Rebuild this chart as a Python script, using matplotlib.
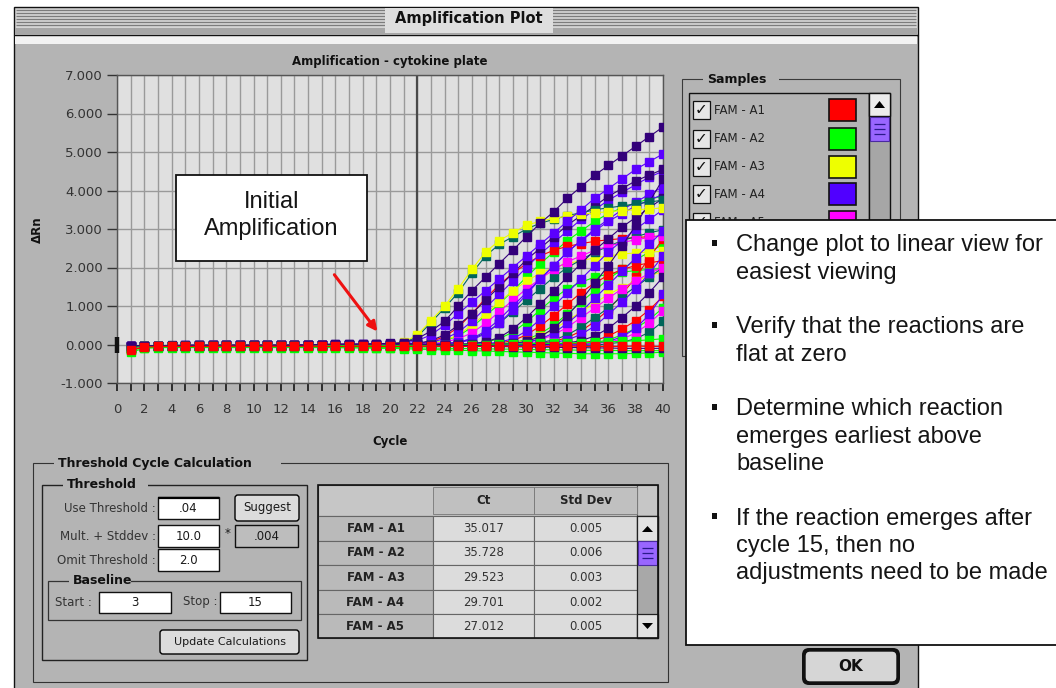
import matplotlib
matplotlib.use("Agg")
import matplotlib.pyplot as plt
from matplotlib.patches import Rectangle, FancyBboxPatch, Polygon
from matplotlib.ticker import FormatStrFormatter

# ---------------- data ----------------
cycles = list(range(1, 41))
x_major_ticks = list(range(0, 41, 2))
x_minor_ticks = list(range(1, 41, 2))
y_ticks = [-1, 0, 1, 2, 3, 4, 5, 6, 7]
highlight_cycle = 22

dpurple_1 = [-0.05,-0.03,-0.03,-0.02,-0.02,-0.02,-0.02,-0.02,-0.02,-0.02, -0.02,-0.02,-0.01,-0.01,0.0,0.01,0.01,0.01,0.02,0.03,
             0.05,0.15,0.35,0.6,1.0,1.4,1.75,2.1,2.45,2.8, 3.15,3.45,3.8,4.1,4.4,4.65,4.9,5.15,5.4,5.65]
purple_1 = [-0.06,-0.04,-0.03,-0.03,-0.02,-0.02,-0.02,-0.02,-0.02,-0.02, -0.02,-0.02,-0.02,-0.01,-0.01,0.0,0.0,0.01,0.01,0.02,
            0.03,0.1,0.25,0.5,0.8,1.1,1.4,1.7,2.0,2.3, 2.6,2.9,3.2,3.5,3.8,4.05,4.3,4.55,4.75,4.95]
teal_1 = [-0.08,-0.04,-0.03,-0.03,-0.03,-0.02,-0.02,-0.02,-0.02,-0.02, -0.02,-0.02,-0.02,-0.02,-0.01,-0.01,-0.01,0.0,0.0,0.01,
          0.05,0.2,0.57,0.95,1.35,1.85,2.3,2.6,2.8,3.0, 3.15,3.25,3.35,3.42,3.5,3.55,3.6,3.65,3.7,3.75]
yellow_1 = [-0.07,-0.04,-0.03,-0.03,-0.03,-0.02,-0.02,-0.02,-0.02,-0.02, -0.02,-0.02,-0.02,-0.02,-0.01,-0.01,-0.01,0.0,0.01,0.02,
            0.06,0.25,0.62,1.0,1.45,1.95,2.4,2.7,2.9,3.1, 3.2,3.28,3.33,3.38,3.42,3.45,3.48,3.5,3.52,3.55]
dpurple_2 = [-0.05,-0.04,-0.03,-0.03,-0.02,-0.02,-0.02,-0.02,-0.02,-0.02, -0.02,-0.02,-0.02,-0.02,-0.01,-0.01,0.0,0.0,0.0,0.0,
             0.0,0.03,0.1,0.25,0.5,0.8,1.15,1.5,1.85,2.2, 2.5,2.8,3.1,3.35,3.6,3.85,4.05,4.25,4.4,4.55]
purple_2 = [-0.06,-0.04,-0.03,-0.03,-0.03,-0.02,-0.02,-0.02,-0.02,-0.02, -0.02,-0.02,-0.02,-0.02,-0.02,-0.01,-0.01,-0.01,0.0,0.0,
            0.0,0.02,0.06,0.15,0.32,0.6,0.95,1.3,1.65,2.0, 2.35,2.65,2.95,3.25,3.5,3.75,3.95,4.15,4.35,4.5]
green_1 = [-0.1,-0.05,-0.04,-0.03,-0.03,-0.03,-0.03,-0.02,-0.02,-0.02, -0.02,-0.02,-0.02,-0.02,-0.02,-0.02,-0.01,-0.01,-0.01,0.0,
           0.0,0.01,0.04,0.1,0.22,0.45,0.75,1.05,1.4,1.75, 2.1,2.4,2.7,2.95,3.2,3.4,3.55,3.68,3.78,3.85]
red_1 = [-0.12,-0.06,-0.05,-0.04,-0.04,-0.03,-0.03,-0.03,-0.03,-0.03, -0.03,-0.03,-0.03,-0.03,-0.02,-0.02,-0.02,-0.02,-0.01,-0.01,
         0.0,0.02,0.08,0.2,0.45,0.8,1.2,1.55,1.85,2.1, 2.3,2.45,2.55,2.62,2.68,2.72,2.75,2.78,2.8,2.82]
magenta_1 = [-0.06,-0.04,-0.03,-0.03,-0.03,-0.03,-0.02,-0.02,-0.02,-0.02, -0.02,-0.02,-0.02,-0.02,-0.02,-0.02,-0.01,-0.01,-0.01,-0.01,
             0.0,0.0,0.02,0.06,0.15,0.3,0.55,0.85,1.15,1.45, 1.7,1.95,2.15,2.3,2.45,2.55,2.65,2.72,2.78,2.83]
yellow_2 = [-0.07,-0.05,-0.04,-0.03,-0.03,-0.03,-0.03,-0.02,-0.02,-0.02, -0.02,-0.02,-0.02,-0.02,-0.02,-0.01,-0.01,-0.01,-0.01,0.0,
            0.0,0.01,0.03,0.1,0.25,0.5,0.8,1.1,1.4,1.65, 1.85,2.0,2.1,2.18,2.25,2.3,2.35,2.38,2.4,2.42]
teal_2 = [-0.06,-0.04,-0.03,-0.03,-0.03,-0.02,-0.02,-0.02,-0.02,-0.02, -0.02,-0.02,-0.02,-0.02,-0.02,-0.02,-0.02,-0.01,-0.01,-0.01,
          -0.01,0.0,0.01,0.02,0.06,0.15,0.3,0.55,0.85,1.15, 1.45,1.75,2.0,2.2,2.4,2.55,2.7,2.8,2.9,2.98]
purple_3 = [-0.05,-0.04,-0.03,-0.03,-0.03,-0.02,-0.02,-0.02,-0.02,-0.02, -0.02,-0.02,-0.02,-0.02,-0.02,-0.02,-0.01,-0.01,-0.01,-0.01,
            0.0,0.0,0.01,0.02,0.06,0.15,0.35,0.65,1.0,1.35, 1.7,2.05,2.4,2.7,3.0,3.25,3.5,3.7,3.9,4.1]
dpurple_3 = [-0.05,-0.04,-0.03,-0.03,-0.03,-0.03,-0.02,-0.02,-0.02,-0.02, -0.02,-0.02,-0.02,-0.02,-0.02,-0.02,-0.02,-0.01,-0.01,-0.01,
             -0.01,-0.01,0.0,0.0,0.01,0.02,0.07,0.18,0.4,0.7, 1.05,1.4,1.75,2.1,2.45,2.75,3.05,3.3,3.55,3.8]
purple_4 = [-0.06,-0.04,-0.04,-0.03,-0.03,-0.03,-0.02,-0.02,-0.02,-0.02, -0.02,-0.02,-0.02,-0.02,-0.02,-0.02,-0.02,-0.02,-0.01,-0.01,
            -0.01,-0.01,-0.01,0.0,0.0,0.01,0.02,0.06,0.15,0.35, 0.65,1.0,1.35,1.7,2.05,2.4,2.7,3.0,3.25,3.5]
red_2 = [-0.1,-0.06,-0.05,-0.05,-0.04,-0.04,-0.04,-0.04,-0.03,-0.03, -0.03,-0.03,-0.03,-0.03,-0.03,-0.03,-0.03,-0.03,-0.03,-0.03,
         -0.03,-0.02,-0.02,-0.02,-0.01,-0.01,0.01,0.04,0.1,0.25, 0.48,0.75,1.05,1.35,1.6,1.8,1.95,2.05,2.12,2.18]
green_2 = [-0.12,-0.06,-0.05,-0.05,-0.04,-0.04,-0.04,-0.04,-0.04,-0.04, -0.04,-0.04,-0.04,-0.04,-0.04,-0.04,-0.04,-0.04,-0.04,-0.04,
           -0.04,-0.04,-0.04,-0.04,-0.03,-0.03,-0.02,0.02,0.05,0.13, 0.28,0.5,0.8,1.1,1.4,1.7,1.95,2.2,2.4,2.6]
magenta_2 = [-0.07,-0.05,-0.04,-0.04,-0.03,-0.03,-0.03,-0.03,-0.03,-0.03, -0.03,-0.03,-0.03,-0.03,-0.03,-0.03,-0.03,-0.02,-0.02,-0.02,
             -0.02,-0.02,-0.02,-0.02,-0.01,-0.01,-0.01,0.0,0.02,0.05, 0.12,0.25,0.45,0.7,0.95,1.2,1.45,1.65,1.85,2.0]
purple_5 = [-0.06,-0.04,-0.03,-0.03,-0.03,-0.03,-0.03,-0.02,-0.02,-0.02, -0.02,-0.02,-0.02,-0.02,-0.02,-0.02,-0.02,-0.02,-0.02,-0.02,
            -0.02,-0.02,-0.01,-0.01,-0.01,0.0,0.0,0.01,0.02,0.06, 0.14,0.3,0.55,0.85,1.2,1.55,1.9,2.25,2.6,2.95]
teal_3 = [-0.06,-0.04,-0.04,-0.03,-0.03,-0.03,-0.03,-0.03,-0.02,-0.02, -0.02,-0.02,-0.02,-0.02,-0.02,-0.02,-0.02,-0.02,-0.02,-0.02,
          -0.02,-0.02,-0.02,-0.02,-0.01,-0.01,-0.01,-0.01,0.0,0.02, 0.05,0.12,0.25,0.45,0.7,0.95,1.25,1.5,1.75,2.0]
yellow_3 = [-0.07,-0.05,-0.04,-0.04,-0.03,-0.03,-0.03,-0.03,-0.03,-0.03, -0.03,-0.03,-0.03,-0.02,-0.02,-0.02,-0.02,-0.02,-0.02,-0.02,
            -0.02,-0.02,-0.01,-0.01,-0.01,0.0,0.0,0.01,0.04,0.1, 0.22,0.4,0.62,0.85,1.08,1.3,1.48,1.65,1.78,1.9]
purple_6 = [-0.05,-0.04,-0.03,-0.03,-0.03,-0.03,-0.03,-0.03,-0.02,-0.02, -0.02,-0.02,-0.02,-0.02,-0.02,-0.02,-0.02,-0.02,-0.02,-0.02,
            -0.02,-0.02,-0.02,-0.02,-0.02,-0.01,-0.01,-0.01,0.0,0.0, 0.02,0.05,0.12,0.26,0.48,0.78,1.1,1.45,1.85,2.3]
dpurple_4 = [-0.05,-0.04,-0.03,-0.03,-0.03,-0.03,-0.03,-0.03,-0.03,-0.02, -0.02,-0.02,-0.02,-0.02,-0.02,-0.02,-0.02,-0.02,-0.02,-0.02,
             -0.02,-0.02,-0.02,-0.02,-0.02,-0.02,-0.02,-0.01,-0.01,-0.01, 0.0,0.01,0.04,0.1,0.22,0.42,0.7,1.0,1.35,1.75]
red_3 = [-0.1,-0.06,-0.05,-0.05,-0.05,-0.04,-0.04,-0.04,-0.04,-0.04, -0.04,-0.04,-0.04,-0.04,-0.04,-0.04,-0.04,-0.04,-0.04,-0.04,
         -0.04,-0.04,-0.04,-0.04,-0.04,-0.04,-0.03,-0.03,-0.03,-0.03, -0.02,-0.02,0.01,0.04,0.1,0.22,0.4,0.62,0.9,1.25]
green_3 = [-0.12,-0.07,-0.06,-0.05,-0.05,-0.05,-0.05,-0.05,-0.05,-0.05, -0.05,-0.05,-0.05,-0.05,-0.05,-0.05,-0.05,-0.05,-0.05,-0.05,
           -0.05,-0.05,-0.05,-0.05,-0.05,-0.05,-0.05,-0.04,-0.04,-0.04, -0.04,-0.03,-0.03,0.02,0.05,0.12,0.25,0.42,0.65,0.95]
magenta_3 = [-0.07,-0.05,-0.04,-0.04,-0.04,-0.04,-0.03,-0.03,-0.03,-0.03, -0.03,-0.03,-0.03,-0.03,-0.03,-0.03,-0.03,-0.03,-0.03,-0.03,
             -0.03,-0.03,-0.03,-0.03,-0.03,-0.03,-0.03,-0.02,-0.02,-0.02, -0.02,-0.02,-0.02,-0.01,0.02,0.06,0.14,0.3,0.55,0.88]
purple_7 = [-0.06,-0.04,-0.04,-0.03,-0.03,-0.03,-0.03,-0.03,-0.03,-0.03, -0.03,-0.03,-0.03,-0.03,-0.03,-0.02,-0.02,-0.02,-0.02,-0.02,
            -0.02,-0.02,-0.02,-0.02,-0.02,-0.02,-0.02,-0.02,-0.02,-0.02, -0.01,-0.01,-0.01,-0.01,0.03,0.08,0.2,0.42,0.78,1.3]
teal_4 = [-0.06,-0.05,-0.04,-0.04,-0.04,-0.04,-0.04,-0.03,-0.03,-0.03, -0.03,-0.03,-0.03,-0.03,-0.03,-0.03,-0.03,-0.03,-0.03,-0.03,
          -0.03,-0.03,-0.03,-0.03,-0.03,-0.03,-0.03,-0.03,-0.03,-0.03, -0.03,-0.02,-0.02,-0.02,-0.02,0.02,0.06,0.15,0.32,0.6]
purple_8 = [-0.06,-0.04,-0.03,-0.03,-0.03,-0.02,-0.02,-0.02,-0.02,-0.02, -0.02,-0.02,-0.02,-0.02,-0.02,-0.02,-0.02,-0.01,-0.01,-0.01,
            -0.01,-0.01,0.0,0.02,0.05,0.12,0.28,0.55,0.9,1.3, 1.7,2.05,2.4,2.7,2.95,3.2,3.4,3.6,3.75,3.9]
dpurple_5 = [-0.05,-0.04,-0.03,-0.03,-0.03,-0.03,-0.03,-0.02,-0.02,-0.02, -0.02,-0.02,-0.02,-0.02,-0.02,-0.02,-0.02,-0.02,-0.02,-0.02,
             -0.02,-0.02,-0.01,-0.01,-0.01,0.0,0.0,0.01,0.03,0.08, 0.2,0.42,0.75,1.15,1.6,2.05,2.55,3.1,3.7,4.3]
green_4 = [-0.1,-0.06,-0.05,-0.04,-0.04,-0.04,-0.03,-0.03,-0.03,-0.03, -0.03,-0.03,-0.03,-0.03,-0.03,-0.03,-0.03,-0.03,-0.03,-0.02,
           -0.02,-0.02,-0.02,-0.01,0.0,0.02,0.06,0.15,0.32,0.58, 0.9,1.2,1.45,1.62,1.75,1.83,1.88,1.92,1.95,1.97]
red_4 = [-0.1,-0.06,-0.05,-0.05,-0.04,-0.04,-0.04,-0.04,-0.04,-0.04, -0.04,-0.04,-0.04,-0.04,-0.04,-0.04,-0.04,-0.04,-0.04,-0.04,
         -0.04,-0.03,-0.03,-0.03,-0.03,-0.03,-0.03,-0.02,-0.02,0.0, 0.03,0.08,0.18,0.35,0.6,0.9,1.3,1.75,2.25,2.75]
green_neg_1 = [-0.2,-0.1,-0.08,-0.08,-0.08,-0.08,-0.08,-0.08,-0.08,-0.08, -0.08,-0.08,-0.08,-0.08,-0.08,-0.08,-0.09,-0.09,-0.1,-0.1,
               -0.11,-0.12,-0.13,-0.14,-0.15,-0.16,-0.17,-0.18,-0.19,-0.2, -0.21,-0.22,-0.23,-0.24,-0.24,-0.24,-0.24,-0.23,-0.22,-0.2]
green_neg_2 = [-0.15,-0.08,-0.06,-0.06,-0.06,-0.06,-0.06,-0.06,-0.06,-0.06, -0.06,-0.06,-0.06,-0.06,-0.06,-0.07,-0.07,-0.07,-0.08,-0.08,
               -0.08,-0.09,-0.09,-0.1,-0.1,-0.11,-0.11,-0.12,-0.12,-0.13, -0.13,-0.14,-0.14,-0.15,-0.15,-0.15,-0.16,-0.16,-0.16,-0.16]
green_flat = [-0.08,-0.04,-0.03,-0.03,-0.03,-0.03,-0.03,-0.03,-0.03,-0.03, -0.03,-0.03,-0.03,-0.03,-0.03,-0.03,-0.03,-0.03,-0.03,-0.03,
              -0.02,-0.02,-0.02,-0.01,-0.01,0.0,0.0,0.01,0.01,0.02, 0.03,0.03,0.04,0.05,0.06,0.07,0.08,0.1,0.12,0.15]
dpurple_flat = [-0.04,-0.03,-0.03,-0.03,-0.03,-0.03,-0.03,-0.03,-0.03,-0.03, -0.03,-0.03,-0.03,-0.02,0.0,0.01,0.01,0.01,0.01,0.02,
                0.02,0.01,0.0,-0.01,-0.02,-0.03,-0.04,-0.05,-0.06,-0.06, -0.07,-0.07,-0.08,-0.08,-0.09,-0.09,-0.1,-0.1,-0.1,-0.1]
red_flat = [-0.14,-0.07,-0.05,-0.05,-0.05,-0.05,-0.05,-0.04,-0.05,-0.05, -0.04,-0.05,-0.05,-0.04,-0.05,-0.05,-0.05,-0.04,-0.05,-0.05,
            -0.05,-0.05,-0.04,-0.05,-0.05,-0.05,-0.05,-0.04,-0.05,-0.05, -0.05,-0.05,-0.04,-0.05,-0.05,-0.05,-0.05,-0.04,-0.05,-0.05]

# drawing order (name -> colour key)
curves = [
    (green_1, "green"), (green_2, "green"), (green_4, "green"), (green_3, "green"),
    (red_1, "red"), (red_2, "red"), (red_4, "red"), (red_3, "red"),
    (yellow_2, "yellow"), (yellow_3, "yellow"),
    (teal_2, "teal"), (teal_3, "teal"), (teal_4, "teal"),
    (magenta_1, "magenta"), (magenta_2, "magenta"), (magenta_3, "magenta"),
    (purple_3, "purple"), (purple_4, "purple"), (purple_5, "purple"), (purple_6, "purple"),
    (purple_7, "purple"), (purple_8, "purple"), (purple_2, "purple"),
    (dpurple_3, "dpurple"), (dpurple_4, "dpurple"), (dpurple_5, "dpurple"), (dpurple_2, "dpurple"),
    (teal_1, "teal"), (yellow_1, "yellow"), (purple_1, "purple"), (dpurple_1, "dpurple"),
    (green_neg_2, "green"), (green_neg_1, "green"), (green_flat, "green"),
    (dpurple_flat, "dpurple"), (red_flat, "red"),
]
PALETTE = {"red": "#ff0000", "green": "#00ff00", "yellow": "#eeff00", "purple": "#5a00ff",
           "magenta": "#ff00ff", "teal": "#00665a", "dpurple": "#33007a"}

sample_names = ["FAM - A1", "FAM - A2", "FAM - A3", "FAM - A4", "FAM - A5"]
sample_colors = ["#ff0000", "#00ff00", "#eeff00", "#5000ff", "#ff00ff"]

wells = ["FAM - A1", "FAM - A2", "FAM - A3", "FAM - A4", "FAM - A5"]
ct_values = [35.017, 35.728, 29.523, 29.701, 27.012]
std_dev = [0.005, 0.006, 0.003, 0.002, 0.005]

use_threshold = ".04"
mult_stddev = "10.0"
stddev_value = ".004"
omit_threshold = "2.0"
baseline_start = "3"
baseline_stop = "15"

bullets = [
    ["Change plot to linear view for", "easiest viewing"],
    ["Verify that the reactions are", "flat at zero"],
    ["Determine which reaction", "emerges earliest above", "baseline"],
    ["If the reaction emerges after", "cycle 15, then no", "adjustments need to be made"],
]

# ---------------- figure ----------------
W, H = 1056, 688
BODY = "#b4b4b4"
UI = "DejaVu Sans"
fig = plt.figure(figsize=(W / 100, H / 100), dpi=100)
fig.patch.set_facecolor("white")
bg = fig.add_axes([0, 0, 1, 1], zorder=0)
bg.set_xlim(0, W); bg.set_ylim(H, 0); bg.axis("off")


def rect(x0, y0, x1, y1, fc="none", ec="none", lw=0.8, z=1, ax=None):
    (ax or bg).add_patch(Rectangle((x0, y0), x1 - x0, y1 - y0, facecolor=fc,
                                   edgecolor=ec, linewidth=lw, zorder=z))


def rrect(x0, y0, x1, y1, fc, ec="k", lw=1.0, r=4, z=3):
    bg.add_patch(FancyBboxPatch((x0 + r, y0 + r), x1 - x0 - 2 * r, y1 - y0 - 2 * r,
                                boxstyle="round,pad=%d" % r, facecolor=fc,
                                edgecolor=ec, linewidth=lw, zorder=z))


def txt(x, y, s, size=8.5, weight="normal", ha="left", va="center", color="#1a1a1a",
        family=UI, z=6, ax=None, **kw):
    (ax or bg).text(x, y, s, fontsize=size, fontweight=weight, ha=ha, va=va,
                    color=color, family=family, zorder=z, **kw)


def hl(x0, x1, y, c="k", lw=0.8, z=2):
    bg.plot([x0, x1], [y, y], color=c, lw=lw, zorder=z, solid_capstyle="butt")


# window body and title bar
rect(14, 35, 918, 690, fc=BODY, ec="#111", lw=1.0)
rect(15, 36, 917, 44, fc="#f2f2f2")
rect(14, 7, 918, 35, fc="#d4d4d4", ec="#111", lw=1.0, z=2)
for yy in (10, 13, 16, 19, 22, 25):
    hl(16, 916, yy, c="#7c7c7c", lw=0.9, z=3)
rect(15, 28, 917, 34.5, fc="#a6a6a6", z=3)
rect(385, 8, 553, 33, fc="#dedede", z=4)
txt(469, 19, "Amplification Plot", size=10.5, weight="bold", ha="center", color="#111")

# chart labels
txt(390, 62, "Amplification - cytokine plate", size=8.5, weight="bold", ha="center", color="#111")
txt(37, 230, "ΔRn", size=8.5, weight="bold", ha="center", rotation=90, color="#111")
txt(390, 441, "Cycle", size=8.5, weight="bold", ha="center", color="#111")

# Samples panel
rect(682, 79, 900, 356, ec="#3a3a3a", lw=0.8)
rect(703, 71, 779, 87, fc=BODY, z=2)
txt(707, 79, "Samples", size=9, weight="bold", color="#111")
rect(689, 93, 869, 360, fc=BODY, ec="#111", lw=1.0, z=2)
rect(869, 93, 890, 360, fc="#a6a6a6", ec="#111", lw=1.0, z=2)
rect(869, 93, 890, 116, fc="#ececec", ec="#111", lw=1.0, z=3)
bg.add_patch(Polygon([[874, 108], [885, 108], [879.5, 101]], closed=True, fc="k", zorder=4))
rect(870, 117, 889, 141, fc="#9966ff", ec="#4a2aa0", lw=0.8, z=3)
for yy in (124, 129, 134):
    hl(874, 885, yy, c="#2a1a8a", lw=0.9, z=4)
row_y = [110, 139, 167, 194, 222]
for yy, name, col in zip(row_y, sample_names, sample_colors):
    rect(693, yy - 9, 710, yy + 9, fc="#e6e6e6", ec="#111", lw=0.9, z=3)
    txt(701.5, yy, "✓", size=11, weight="bold", ha="center", color="#111")
    txt(714, yy, name, size=8.5, color="#222")
    rect(829, yy - 11, 856, yy + 11, fc=col, ec="#111", lw=1.2, z=3)

# instruction text box
rect(686, 220, 1062, 645, fc="white", ec="#111", lw=1.3, z=10)
k_positions = [[0, 1], [3, 4], [6, 7, 8], [10, 11, 12]]
for lines, ks in zip(bullets, k_positions):
    for j, (line, k) in enumerate(zip(lines, ks)):
        base = 251.5 + 27.3 * k
        if j == 0:
            rect(711.5, base - 11.2, 717, base - 5.7, fc="#111", z=11)
        txt(736, base, line, size=17, va="baseline", family="Liberation Sans",
            color="#151515", z=11)

# Threshold Cycle Calculation panel
rect(33, 463, 668, 682, ec="#333", lw=0.8)
rect(54, 455, 281, 471, fc=BODY, z=2)
txt(58, 463, "Threshold Cycle Calculation", size=9, weight="bold", color="#111")
rect(42, 485, 307, 660, ec="#222", lw=1.0)
rect(63, 477, 148, 493, fc=BODY, z=2)
txt(67, 485, "Threshold", size=9, weight="bold", color="#111")

txt(156, 508, "Use Threshold :", size=8.5, ha="right", color="#333")
rect(158, 497, 219, 519, fc="white", ec="#111", lw=1.0, z=3)
hl(158, 219, 497.5, c="k", lw=1.6, z=4)
txt(188.5, 508, use_threshold, size=8.5, ha="center")
rrect(235, 495, 299, 521, fc="#dcdcdc", lw=1.0, r=3)
txt(267, 508, "Suggest", size=8.5, ha="center")

txt(156, 536, "Mult. + Stddev :", size=8.5, ha="right", color="#333")
rect(158, 525, 219, 547, fc="white", ec="#111", lw=1.0, z=3)
txt(188.5, 536, mult_stddev, size=8.5, ha="center")
txt(228, 534, "*", size=8.5, ha="center")
rect(235, 525, 298, 547, fc="#bdbdbd", ec="#111", lw=1.0, z=3)
txt(266.5, 536, stddev_value, size=8.5, ha="center")

txt(156, 560, "Omit Threshold :", size=8.5, ha="right", color="#333")
rect(158, 549, 219, 571, fc="white", ec="#111", lw=1.0, z=3)
txt(188.5, 560, omit_threshold, size=8.5, ha="center")

rect(48, 581, 301, 620, ec="#333", lw=0.9)
rect(69, 573, 131, 589, fc=BODY, z=2)
txt(73, 581, "Baseline", size=9, weight="bold", color="#111")
txt(55, 602, "Start :", size=8.5, color="#333")
rect(99, 592, 171, 613, fc="white", ec="#111", lw=1.0, z=3)
txt(135, 602.5, baseline_start, size=8.5, ha="center")
txt(183, 602, "Stop :", size=8.5, color="#333")
rect(220, 592, 291, 613, fc="white", ec="#111", lw=1.0, z=3)
txt(255.5, 602.5, baseline_stop, size=8.5, ha="center")
rrect(160, 630, 299, 654, fc="#dcdcdc", lw=1.0, r=3)
txt(229.5, 642, "Update Calculations", size=8, ha="center")

# Ct table
tx = [318, 433, 534, 637, 658]
ty = [485, 516, 541, 565, 590, 614, 638]
rect(318, 485, 637, 516, fc="#c6c6c6", ec="#555", lw=0.8, z=2)
rect(433, 487, 534, 514, fc="#c0c0c0", ec="#777", lw=0.6, z=3)
rect(534, 487, 637, 514, fc="#c0c0c0", ec="#777", lw=0.6, z=3)
txt(483.5, 500, "Ct", size=8.5, weight="bold", ha="center", color="#222")
txt(585.5, 500, "Std Dev", size=8.5, weight="bold", ha="center", color="#222")
rect(637, 485, 658, 516, fc="#c6c6c6", ec="#555", lw=0.8, z=2)
for i, (w, c, s) in enumerate(zip(wells, ct_values, std_dev)):
    y0, y1 = ty[i + 1], ty[i + 2]
    ym = (y0 + y1) / 2
    rect(318, y0, 433, y1, fc="#bababa", ec="#666", lw=0.8, z=2)
    rect(433, y0, 534, y1, fc="#dcdcdc", ec="#666", lw=0.8, z=2)
    rect(534, y0, 637, y1, fc="#dcdcdc", ec="#666", lw=0.8, z=2)
    txt(375.5, ym, w, size=8.5, weight="bold", ha="center", color="#222")
    txt(483.5, ym, "%.3f" % c, size=8.5, ha="center", color="#333")
    txt(585.5, ym, "%.3f" % s, size=8.5, ha="center", color="#333")
rect(637, 516, 658, 638, fc="#a8a8a8", ec="#222", lw=0.9, z=2)
rect(637, 516, 658, 541, fc="#e2e2e2", ec="#222", lw=0.9, z=3)
bg.add_patch(Polygon([[642, 532], [653, 532], [647.5, 526]], closed=True, fc="k", zorder=4))
rect(638, 541, 657, 565, fc="#9966ff", ec="#4a2aa0", lw=0.8, z=3)
for yy in (548, 553, 558):
    hl(642, 653, yy, c="#2a1a8a", lw=0.9, z=4)
rect(637, 614, 658, 638, fc="#e2e2e2", ec="#222", lw=0.9, z=3)
bg.add_patch(Polygon([[642, 623], [653, 623], [647.5, 629]], closed=True, fc="k", zorder=4))
rect(318, 485, 658, 638, ec="#111", lw=1.2, z=5)

# OK button
rrect(802, 648, 900, 685, fc="#111", lw=0, r=7, z=3)
rrect(805, 651, 897, 682, fc="#d6d6d6", ec="#111", lw=1.0, r=5, z=4)
txt(851, 666.5, "OK", size=11, weight="bold", ha="center", color="#111", z=7)

# ---------------- amplification plot ----------------
ax = fig.add_axes([117 / W, 1 - 383 / H, (663 - 117) / W, (383 - 75) / H], zorder=2)
ax.set_facecolor("#e0e0e0")
ax.set_xlim(0, 40)
ax.set_ylim(-1, 7)
ax.set_xticks(x_major_ticks)
ax.set_xticks(x_minor_ticks, minor=True)
ax.set_yticks(y_ticks)
ax.yaxis.set_major_formatter(FormatStrFormatter("%.3f"))
ax.grid(True, which="both", axis="x", color="#9a9a9a", lw=1.0, zorder=0)
ax.grid(True, which="major", axis="y", color="#9a9a9a", lw=1.0, zorder=0)
ax.axvline(highlight_cycle, color="#4a4a4a", lw=1.6, zorder=1)
ax.set_axisbelow(True)
for sp in ax.spines.values():
    sp.set_color("#555")
    sp.set_linewidth(1.0)
ax.tick_params(axis="y", direction="out", length=7, width=1.0, color="#333",
               labelsize=9.5, labelcolor="#333", pad=3)
ax.tick_params(axis="x", which="both", direction="out", length=5.5, width=1.3,
               color="#222", labelsize=9.5, labelcolor="#333", pad=9)

for vals, key in curves:
    ax.plot(cycles, vals, color=PALETTE[key], lw=0.8, marker="s", ms=5.8,
            mec=PALETTE[key], zorder=3)
ax.plot([0], [0.0], marker="|", ms=11, mew=3.2, color="#111", zorder=4, clip_on=False)

# overlay: annotation box and arrow
ov = fig.add_axes([0, 0, 1, 1], zorder=3)
ov.set_xlim(0, W); ov.set_ylim(H, 0); ov.axis("off")
ov.add_patch(Rectangle((176, 175), 191, 86, facecolor="white", edgecolor="#111", lw=1.3, zorder=5))
ov.text(271.5, 208, "Initial", fontsize=17, family="Liberation Sans", ha="center",
        va="baseline", color="#151515", zorder=6)
ov.text(271.5, 235, "Amplification", fontsize=17, family="Liberation Sans", ha="center",
        va="baseline", color="#151515", zorder=6)
ax.annotate("", xy=(19.2, 0.28), xytext=(15.8, 1.87), xycoords="data", textcoords="data",
            arrowprops=dict(arrowstyle="-|>", color="#ee1111", lw=2.2, mutation_scale=14),
            annotation_clip=False, zorder=6)

fig.savefig("out.png", dpi=100, facecolor="white")
